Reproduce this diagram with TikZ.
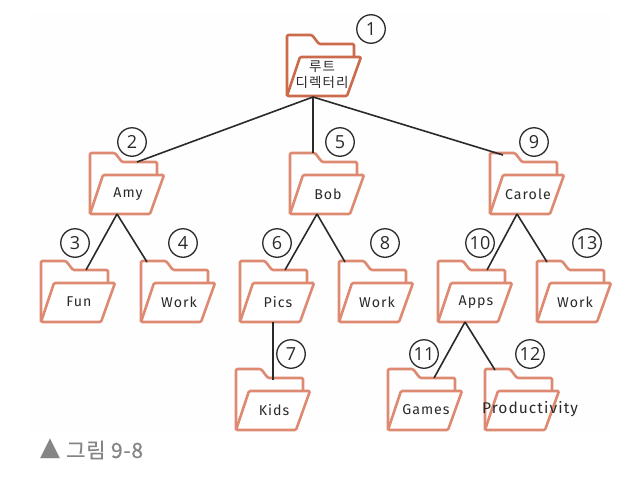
\documentclass[tikz,border=0pt]{standalone}
\usepackage{fontspec}
\setmainfont[LetterSpace=7]{Fira Sans}
\newfontfamily\krfont[LetterSpace=8]{Noto Sans CJK KR}
\newfontfamily\numfont{Open Sans}
\newfontfamily\capfont[LetterSpace=3.5]{Noto Sans CJK KR}
\newfontfamily\symfont{DejaVu Sans}
\definecolor{folderc}{HTML}{DE8A72}
\definecolor{rootc}{HTML}{CC6A4C}
\definecolor{inkc}{HTML}{2A2A2A}
\definecolor{capc}{HTML}{858585}
\tikzset{
  backline/.style={line width=2.6pt,line join=round,rounded corners=1.2pt},
  frontline/.style={line width=2.6pt,line join=round,rounded corners=1.2pt,fill=white},
  folderlabel/.style={font=\fontsize{14.2}{16}\selectfont,text=inkc,inner sep=0pt},
  folderbox/.style={minimum width=75pt,minimum height=61pt,inner sep=0pt,anchor=north west},
  numc/.style={circle,draw=inkc,line width=1.3pt,minimum size=28.5pt,inner sep=0pt,font=\fontsize{18}{18}\numfont,text=inkc},
  edge/.style={line width=1.6pt,draw=inkc},
}
% name, x, y, entry dx, entry dy, colour, label
\newcommand{\folderpic}[7]{%
  \draw[backline,draw=#6] (#2,#3+61) -- (#2,#3) -- (#2+25,#3) -- (#2+32,#3+9) -- (#2+67,#3+9) -- (#2+67,#3+21);
  \draw[frontline,draw=#6] (#2+13,#3+22) -- (#2+74,#3+22) -- (#2+60,#3+61) -- (#2,#3+61) -- cycle;
  \node[folderbox] (#1) at (#2,#3) {};
  \coordinate (#1-in) at (#2+#4,#3+#5);
  \coordinate (#1-out) at (#2+27,#3+61);
  \node[folderlabel] (#1-label) at (#2+38,#3+41) {#7};
}
\begin{document}
\begin{tikzpicture}[x=1pt,y=-1pt]
\useasboundingbox (0,0) rectangle (640,490);
\fill[white] (0,0) rectangle (640,490);
\fill[black!0.5] (28,12) rectangle (612,432);

\folderpic{root}{287}{35}{26}{62}{rootc}{}
\node[inner sep=0pt,align=center,font=\fontsize{13.5}{16}\krfont,text=inkc] (rootlabel) at (322,74.5) {루트\\디렉터리};
\folderpic{amy}{90}{153}{47}{9}{folderc}{Amy}
\folderpic{bob}{290}{153}{23}{0}{folderc}{Bob}
\folderpic{carole}{490}{153}{13}{2}{folderc}{Carole}
\folderpic{fun}{41}{261}{45}{9}{folderc}{Fun}
\folderpic{worka}{141}{261}{6}{1}{folderc}{Work}
\folderpic{pics}{240}{261}{45}{9}{folderc}{Pics}
\folderpic{workb}{339}{261}{6}{1}{folderc}{Work}
\folderpic{apps}{438}{261}{49}{9}{folderc}{Apps}
\folderpic{workc}{537}{261}{10}{1}{folderc}{Work}
\folderpic{kids}{236}{369}{37}{11}{folderc}{Kids}
\folderpic{games}{388}{369}{46}{9}{folderc}{Games}
\folderpic{prod}{485}{369}{10}{1}{folderc}{}
\node[folderlabel,font=\fontsize{15.5}{17}\selectfont] (prodlabel) at (530,409) {Productivity};

\coordinate (pics-down) at (273,322);
\draw[edge] (root-in) -- (amy-in);
\draw[edge] (root-in) -- (bob-in);
\draw[edge] (root-in) -- (carole-in);
\draw[edge] (amy-out) -- (fun-in);
\draw[edge] (amy-out) -- (worka-in);
\draw[edge] (bob-out) -- (pics-in);
\draw[edge] (bob-out) -- (workb-in);
\draw[edge] (carole-out) -- (apps-in);
\draw[edge] (carole-out) -- (workc-in);
\draw[edge] (pics-down) -- (kids-in);
\draw[edge] (apps-out) -- (games-in);
\draw[edge] (apps-out) -- (prod-in);

\node[numc] (n1) at (371,29) {1};
\node[numc] (n2) at (132,142) {2};
\node[numc] (n3) at (75,243) {3};
\node[numc] (n4) at (183,243) {4};
\node[numc] (n5) at (340,142) {5};
\node[numc] (n6) at (277,243) {6};
\node[numc] (n7) at (291,354) {7};
\node[numc] (n8) at (385,243) {8};
\node[numc] (n9) at (534,142) {9};
\node[numc] (n10) at (480,243) {10};
\node[numc] (n11) at (424,354) {11};
\node[numc] (n12) at (530,354) {12};
\node[numc] (n13) at (587,243) {13};

\node[anchor=west,inner sep=0pt,text=capc,font=\fontsize{26}{26}\symfont] (captri) at (40,449) {▲};
\node[anchor=west,inner sep=0pt,text=capc,font=\fontsize{21}{24}\capfont\addfontfeature{FakeBold=0.6}] (capt) at (66,450) {그림 9-8};
\end{tikzpicture}
\end{document}
